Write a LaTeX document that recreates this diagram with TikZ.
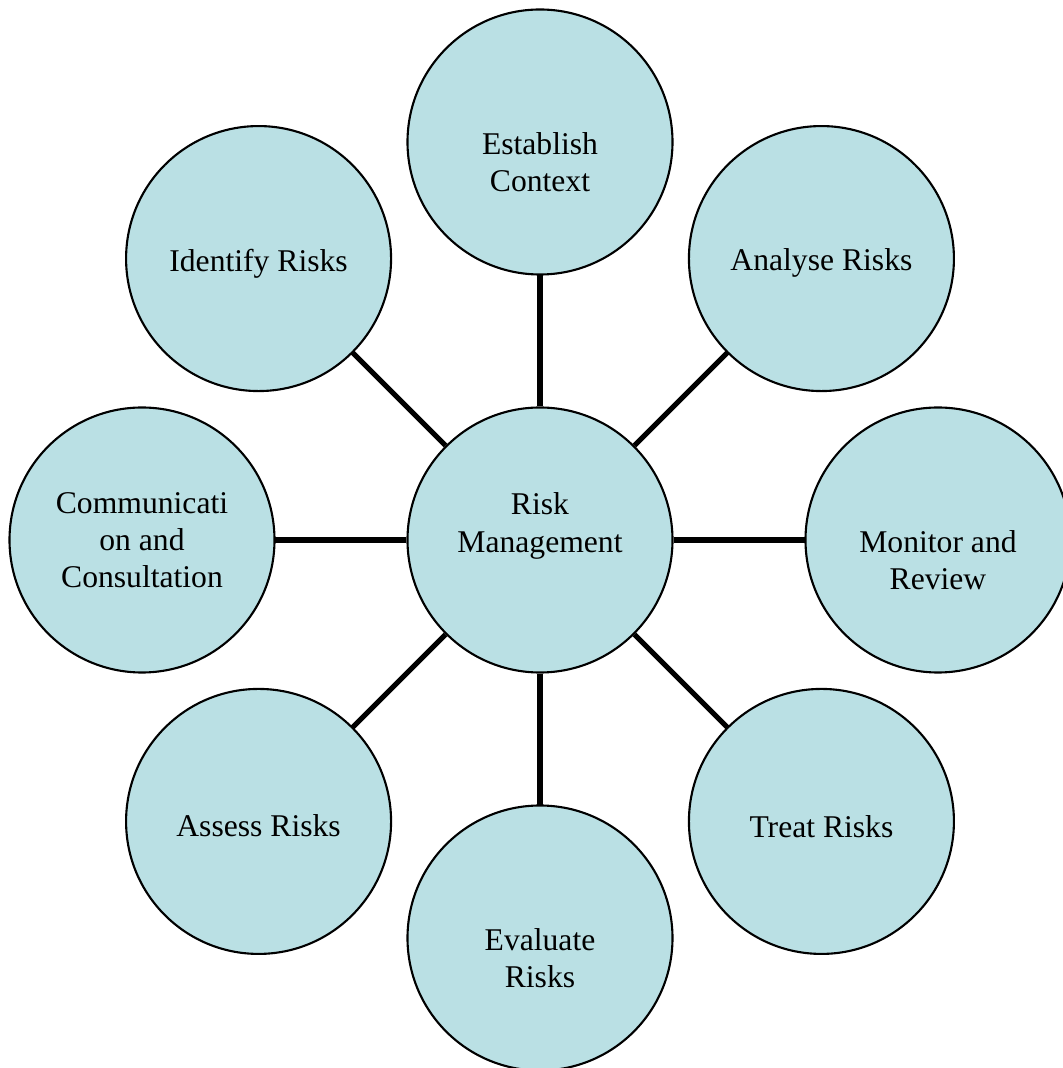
\documentclass[tikz,border=0pt]{standalone}
\usepackage{fontspec}
\setmainfont{Liberation Serif}
\definecolor{riskblue}{RGB}{186,224,228}

\begin{document}
\begin{tikzpicture}[
        riskcircle/.style={circle,draw=black,line width=0.6pt,fill=riskblue,
            minimum size=2.65cm,inner sep=0pt},
        risktext/.style={align=center,inner sep=0pt,font=\fontsize{9pt}{10.6pt}\selectfont},
        link/.style={line width=1.45pt}]
    \useasboundingbox (0,0) rectangle (10.62,10.68);
    \node[riskcircle] (rm) at (5.40,5.28) {};
    \node[risktext] (rm-txt) at ([yshift=0.14cm]rm.center) {Risk\\Management};
    \foreach \n/\a/\s/\t in {est/90/-0.20/{Establish\\Context},
        ana/45/-0.04/{Analyse Risks},
        mon/0/-0.20/{Monitor and\\Review},
        tre/-45/-0.05/{Treat Risks},
        eva/-90/-0.20/{Evaluate\\Risks},
        ass/-135/-0.04/{Assess Risks},
        com/180/0/{Communicati\\on and\\Consultation},
        ide/135/-0.05/{Identify Risks}}
    {
        \draw[link] (rm) -- ([shift={(\a:3.98)}]rm.center);
        \node[riskcircle] (\n) at ([shift={(\a:3.98)}]rm.center) {};
        \node[risktext] (\n-txt) at ([yshift=\s cm]\n.center) {\t};
    }
\end{tikzpicture}
\end{document}
